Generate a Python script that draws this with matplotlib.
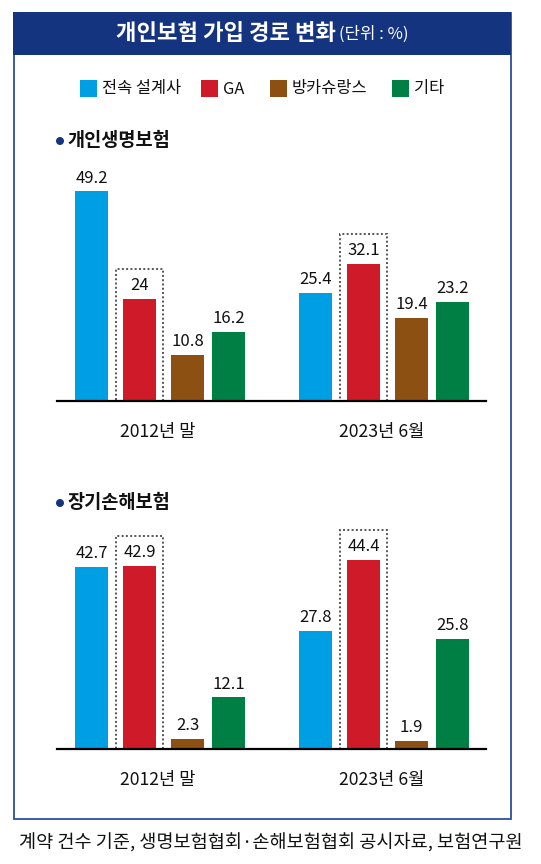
import matplotlib
matplotlib.use("Agg")
import matplotlib.pyplot as plt
from matplotlib.patches import Rectangle, Ellipse

plt.rcParams["font.family"] = ["Noto Sans CJK KR", "DejaVu Sans"]

# data
series = ["전속 설계사", "GA", "방카슈랑스", "기타"]
colors = ["#009fe3", "#cf1a29", "#8c5012", "#007f44"]
periods = ["2012년 말", "2023년 6월"]
life_values = [[49.2, 24, 10.8, 16.2], [25.4, 32.1, 19.4, 23.2]]
nonlife_values = [[42.7, 42.9, 2.3, 12.1], [27.8, 44.4, 1.9, 25.8]]
labels_life = [["49.2", "24", "10.8", "16.2"], ["25.4", "32.1", "19.4", "23.2"]]
labels_nonlife = [["42.7", "42.9", "2.3", "12.1"], ["27.8", "44.4", "1.9", "25.8"]]
highlight = 1  # GA bar gets the dotted box

W, H = 541, 864
fig = plt.figure(figsize=(W / 100, H / 100), dpi=100)

def px(x, y):
    # pixel coords (top-left origin) -> figure fraction
    return x / W, 1 - y / H

# frame + header
fig.patches.append(Rectangle(px(13.5, 818.5), 497.5 / W, 806 / H, transform=fig.transFigure,
                             fill=False, edgecolor="#2d4f9e", linewidth=1.3))
fig.patches.append(Rectangle(px(13, 55), 498 / W, 43 / H, transform=fig.transFigure,
                             facecolor="#15347f", edgecolor="none"))
fig.text(*px(116, 33), "개인보험 가입 경로 변화", color="white", fontsize=16,
         fontweight="bold", ha="left", va="center")
fig.text(*px(339, 34), "(단위 : %)", color="white", fontsize=12, ha="left", va="center")

# legend
leg_x = [80, 201, 270, 392]
for i, name in enumerate(series):
    fig.patches.append(Rectangle(px(leg_x[i], 97), 17 / W, 17 / H, transform=fig.transFigure,
                                 facecolor=colors[i], edgecolor="none"))
    fig.text(*px(leg_x[i] + 22, 89), name, fontsize=11.8, ha="left", va="center",
             color="#111111")

group_step = 224
bar_left = [0, 48, 96, 137]
bar_w = 33
first_left = 75
scale = 4.26  # px per %

def draw_panel(title, title_y, values, labels, base_y):
    fig.patches.append(Ellipse(px(60, title_y + 1), 8 / W, 8 / H, transform=fig.transFigure,
                               facecolor="#15347f", edgecolor="none"))
    fig.text(*px(67, title_y), title, fontsize=13.4, fontweight="bold", ha="left",
             va="center", color="#111111")
    top = base_y - 55 * scale
    x0, y0 = px(57, base_y)
    ax = fig.add_axes([x0, y0, (486 - 57) / W, (base_y - top) / H])
    ax.set_xlim(57, 486)
    ax.set_ylim(0, 55)
    for g, vals in enumerate(values):
        lefts = [first_left + g * group_step + b for b in bar_left]
        for i, v in enumerate(vals):
            ax.bar(lefts[i], v, width=bar_w, align="edge", color=colors[i], zorder=2)
            ax.annotate(labels[g][i], (lefts[i] + bar_w / 2, v), xytext=(0, 3.5),
                        textcoords="offset points", ha="center", va="bottom",
                        fontsize=12, fontweight="medium", color="#111111")
        hv = vals[highlight]
        ax.add_patch(Rectangle((lefts[highlight] - 7, 0), bar_w + 14, hv + 7,
                               fill=False, edgecolor="#555555", linewidth=1.4,
                               linestyle=(0, (1, 1.2)), zorder=1, clip_on=False))
        ax.text(first_left + g * group_step + (bar_left[1] + bar_left[2] + bar_w) / 2 - 6,
                -31 / scale, periods[g], ha="center", va="center", fontsize=12.7,
                fontweight="medium", color="#111111")
    for s in ["top", "left", "right"]:
        ax.spines[s].set_visible(False)
    ax.spines["bottom"].set_linewidth(1.6)
    ax.spines["bottom"].set_zorder(3)
    ax.set_xticks([])
    ax.set_yticks([])
    ax.patch.set_alpha(0)

draw_panel("개인생명보험", 140, life_values, labels_life, 401)
draw_panel("장기손해보험", 502, nonlife_values, labels_nonlife, 749)

fig.text(*px(271, 843), "계약 건수 기준, 생명보험협회·손해보험협회 공시자료, 보험연구원",
         fontsize=13.4, ha="center", va="center", color="#111111")

fig.savefig("out.png", dpi=100)
